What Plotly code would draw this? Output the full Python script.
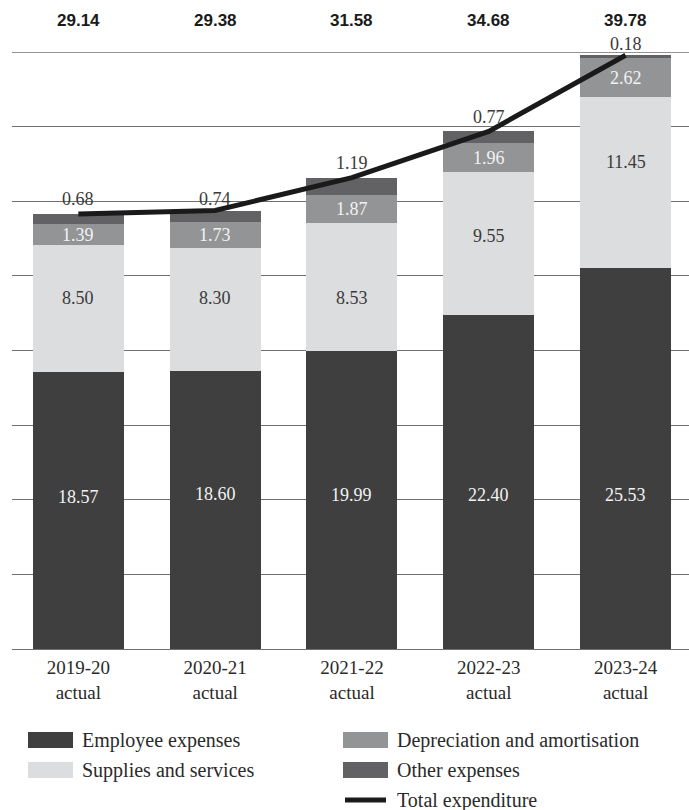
import plotly.graph_objects as go

categories = ["2019-20<br>actual", "2020-21<br>actual", "2021-22<br>actual", "2022-23<br>actual", "2023-24<br>actual"]
employee = [18.57, 18.60, 19.99, 22.40, 25.53]
supplies = [8.50, 8.30, 8.53, 9.55, 11.45]
depreciation = [1.39, 1.73, 1.87, 1.96, 2.62]
other = [0.68, 0.74, 1.19, 0.77, 0.18]
totals = [29.14, 29.38, 31.58, 34.68, 39.78]

# label placements (data units)
employee_label_y = [10.18, 10.39, 10.32, 10.32, 10.32]
supplies_label_y = [23.52, 23.52, 23.52, 27.67, 32.63]
other_label_y = [30.15, 30.15, 32.56, 35.64, 40.54]

C_EMP = "#3f3f3f"
C_SUP = "#dcdddf"
C_DEP = "#939496"
C_OTH = "#626264"
C_LINE = "#1a1a1a"
TXT = "#3a3a3a"
SERIF = "Liberation Serif"

W, H = 689, 810
ML, MR, MT, MB = 12, 0, 52, 161
PW, PH = W - ML - MR, H - MT - MB
YMAX = 40.0

def px(x):
    return (x - ML) / PW

def py(y):
    return (H - MB - y) / PH

x = list(range(len(categories)))
BW = 0.665
UNIT_X = PW / 4.9485      # px per category step

fig = go.Figure()
for name, vals, col in [("Employee expenses", employee, C_EMP),
                        ("Supplies and services", supplies, C_SUP),
                        ("Depreciation and amortisation", depreciation, C_DEP),
                        ("Other expenses", other, C_OTH)]:
    fig.add_trace(go.Bar(x=x, y=vals, name=name, marker=dict(color=col, line=dict(width=0)),
                         width=BW, showlegend=False, hoverinfo="skip"))

fig.add_trace(go.Scatter(x=x, y=totals, mode="lines", name="Total expenditure",
                         line=dict(color=C_LINE, width=5), showlegend=False, hoverinfo="skip"))

ann = []
shapes = []
for i in x:
    ann.append(dict(x=i, y=employee_label_y[i], text=f"{employee[i]:.2f}", showarrow=False,
                    font=dict(family=SERIF, size=18, color="#f2f2f2")))
    ann.append(dict(x=i, y=supplies_label_y[i], text=f"{supplies[i]:.2f}", showarrow=False,
                    font=dict(family=SERIF, size=18, color=TXT)))
    dep_c = employee[i] + supplies[i] + depreciation[i] / 2
    ann.append(dict(x=i, y=dep_c, text=f"{depreciation[i]:.2f}", showarrow=False,
                    font=dict(family=SERIF, size=18, color="#f2f2f2")))
    # "other" label: white knock-out behind the text (above gridlines, below traces)
    oy = other_label_y[i] / YMAX
    hw, hh = 22 / PW, 9 / PH
    xc = px(ML + (i + 0.485) * UNIT_X)
    shapes.append(dict(type="rect", xref="paper", yref="paper", layer="between",
                       x0=xc - hw, x1=xc + hw, y0=oy - hh, y1=oy + hh,
                       fillcolor="white", line=dict(width=0)))
    ann.append(dict(xref="paper", yref="paper", x=xc, y=oy, xanchor="center", yanchor="middle",
                    text=f"{other[i]:.2f}", showarrow=False,
                    font=dict(family=SERIF, size=18, color=TXT)))
    ann.append(dict(xref="paper", yref="paper", x=xc, y=py(21), xanchor="center", yanchor="middle",
                    text=f"<b>{totals[i]:.2f}</b>", showarrow=False,
                    font=dict(family="Liberation Sans", size=17, color="#1a1a1a")))

# custom legend
legend_items = [
    (28, 740, "Employee expenses", C_EMP, "box"),
    (28, 770, "Supplies and services", C_SUP, "box"),
    (343, 740, "Depreciation and amortisation", C_DEP, "box"),
    (343, 770, "Other expenses", C_OTH, "box"),
    (343, 800, "Total expenditure", C_LINE, "line"),
]
for lx, ly, label, col, kind in legend_items:
    if kind == "box":
        shapes.append(dict(type="rect", xref="paper", yref="paper",
                           x0=px(lx), x1=px(lx + 45), y0=py(ly + 8), y1=py(ly - 8),
                           fillcolor=col, line=dict(width=0)))
    else:
        shapes.append(dict(type="line", xref="paper", yref="paper",
                           x0=px(lx + 2), x1=px(lx + 43), y0=py(ly), y1=py(ly),
                           line=dict(color=col, width=5)))
    ann.append(dict(xref="paper", yref="paper", x=px(lx + 52), y=py(ly), xanchor="left",
                    yanchor="middle", text=label, showarrow=False,
                    font=dict(family=SERIF, size=20, color="#2a2a2a")))

# top gridline (at the edge of the plot area)
shapes.append(dict(type="line", xref="paper", yref="y", layer="below",
                   x0=0, x1=1, y0=YMAX, y1=YMAX, line=dict(color="#707070", width=1.3)))

fig.update_layout(
    width=W, height=H,
    margin=dict(l=ML, r=MR, t=MT, b=MB, pad=0),
    barmode="stack",
    plot_bgcolor="white", paper_bgcolor="white",
    showlegend=False,
    annotations=ann,
    shapes=shapes,
    xaxis=dict(tickmode="array", tickvals=x, ticktext=categories,
               range=[-0.485, 4.4635], showgrid=False, zeroline=False, showline=False,
               ticks="", ticklabelstandoff=5,
               tickfont=dict(family=SERIF, size=19, color="#2a2a2a")),
    yaxis=dict(range=[0, YMAX], dtick=5, showgrid=True, gridcolor="#707070", gridwidth=1.3,
               zeroline=True, zerolinecolor="#707070", zerolinewidth=1.3,
               showline=False, showticklabels=False, ticks=""),
)

fig.write_html("out.html")
